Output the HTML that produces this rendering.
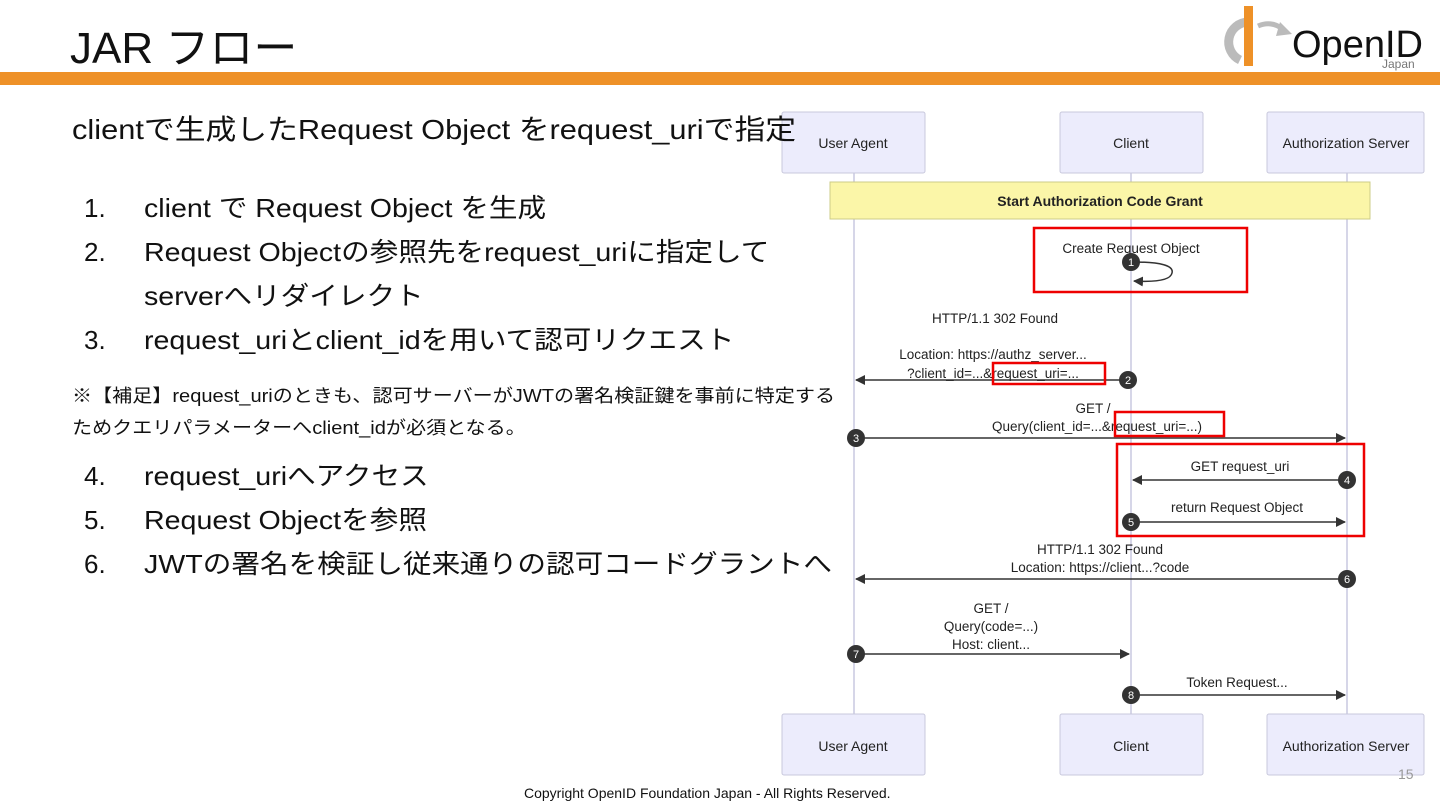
<!DOCTYPE html>
<html><head><meta charset="utf-8"><style>
body{margin:0;width:1440px;height:810px;background:#fff;position:relative;overflow:hidden;font-family:"Liberation Sans","Noto Sans CJK JP",sans-serif;color:#111}
.t{position:absolute;white-space:nowrap}
.s{transform:scaleX(1.1);transform-origin:0 0}
.n{position:absolute;white-space:nowrap;font-size:26px;line-height:36px;left:84px}
.l{position:absolute;white-space:nowrap;font-size:26px;line-height:36px;left:144px;transform:scaleX(1.1);transform-origin:0 0}
.n span,.l span{vertical-align:baseline}
</style></head><body>
<div class="t" style="left:70px;top:12px;font-size:44px;transform:scaleX(1.0);transform-origin:0 0">JAR フロー</div>
<div style="position:absolute;left:0;top:72px;width:1440px;height:13px;background:#ee9128"></div>
<svg style="position:absolute;left:1210px;top:0" width="230" height="72">
<path d="M38 22 A20 20 0 0 0 30 60" stroke="#bbb" stroke-width="9" fill="none"/>
<rect x="34" y="6" width="9" height="60" fill="#ee9128"/>
<path d="M48 26 Q62 20 74 30" stroke="#bbb" stroke-width="5" fill="none"/>
<polygon points="70,22 82,34 66,36" fill="#bbb"/>
<text x="82" y="57" font-size="38" font-family="Liberation Sans" fill="#111">OpenID</text>
<text x="172" y="68" font-size="12" font-family="Liberation Sans" fill="#777">Japan</text>
</svg>
<svg style="position:absolute;left:0;top:0" width="1440" height="810" font-family="Liberation Sans" font-size="13.5">
<defs><marker id="a" markerWidth="10" markerHeight="10" refX="9" refY="5" orient="auto" markerUnits="userSpaceOnUse"><path d="M0,0 L10,5 L0,10z" fill="#333"/></marker></defs>
<g stroke="#c8c8e0" stroke-width="1.5"><line x1="854" y1="172" x2="854" y2="714"/><line x1="1131" y1="172" x2="1131" y2="714"/><line x1="1347" y1="172" x2="1347" y2="714"/></g>
<g fill="#ececfc" stroke="#c8c8dc"><rect x="782" y="112" width="143" height="61" rx="2"/><rect x="1060" y="112" width="143" height="61" rx="2"/><rect x="1267" y="112" width="157" height="61" rx="2"/>
<rect x="782" y="714" width="143" height="61" rx="2"/><rect x="1060" y="714" width="143" height="61" rx="2"/><rect x="1267" y="714" width="157" height="61" rx="2"/></g>
<g text-anchor="middle" font-size="14" fill="#222"><text x="853" y="148">User Agent</text><text x="1131" y="148">Client</text><text x="1346" y="148">Authorization Server</text>
<text x="853" y="751">User Agent</text><text x="1131" y="751">Client</text><text x="1346" y="751">Authorization Server</text></g>
<rect x="830" y="182" width="540" height="37" fill="#fbf6a8" stroke="#cccc88"/>
<text x="1100" y="206" text-anchor="middle" font-size="14" font-weight="bold" fill="#222">Start Authorization Code Grant</text>
<g fill="#222" text-anchor="middle">
<text x="1131" y="253">Create Request Object</text>
<text x="995" y="323">HTTP/1.1 302 Found</text>
<text x="993" y="359">Location: https://authz_server...</text>
<text x="993" y="378">?client_id=...&amp;request_uri=...</text>
<text x="1093" y="413">GET /</text>
<text x="1097" y="431">Query(client_id=...&amp;request_uri=...)</text>
<text x="1240" y="471">GET request_uri</text>
<text x="1237" y="512">return Request Object</text>
<text x="1100" y="554">HTTP/1.1 302 Found</text>
<text x="1100" y="572">Location: https://client...?code</text>
<text x="991" y="613">GET /</text>
<text x="991" y="631">Query(code=...)</text>
<text x="991" y="649">Host: client...</text>
<text x="1237" y="687">Token Request...</text>
</g>
<g stroke="#333" stroke-width="1.5" fill="none" marker-end="url(#a)">
<path d="M1133 262 Q1175 262 1172 273 Q1170 283 1134 281"/>
<line x1="1128" y1="380" x2="856" y2="380"/>
<line x1="856" y1="438" x2="1345" y2="438"/>
<line x1="1345" y1="480" x2="1133" y2="480"/>
<line x1="1133" y1="522" x2="1345" y2="522"/>
<line x1="1345" y1="579" x2="856" y2="579"/>
<line x1="856" y1="654" x2="1129" y2="654"/>
<line x1="1133" y1="695" x2="1345" y2="695"/>
</g>
<g fill="#333"><circle cx="1131" cy="262" r="9"/><circle cx="1128" cy="380" r="9"/><circle cx="856" cy="438" r="9"/><circle cx="1347" cy="480" r="9"/><circle cx="1131" cy="522" r="9"/><circle cx="1347" cy="579" r="9"/><circle cx="856" cy="654" r="9"/><circle cx="1131" cy="695" r="9"/></g>
<g fill="#fff" font-size="11" text-anchor="middle"><text x="1131" y="266">1</text><text x="1128" y="384">2</text><text x="856" y="442">3</text><text x="1347" y="484">4</text><text x="1131" y="526">5</text><text x="1347" y="583">6</text><text x="856" y="658">7</text><text x="1131" y="699">8</text></g>
<g fill="none" stroke="#e00" stroke-width="2.5"><rect x="1034" y="228" width="213" height="64"/><rect x="993" y="363" width="112" height="21"/><rect x="1115" y="412" width="109" height="24"/><rect x="1117" y="444" width="247" height="92"/></g>
</svg>
<div class="t s" style="left:72px;top:108px;font-size:28px">clientで生成したRequest Object をrequest_uriで指定</div>
<div class="n" style="top:190px">1.</div><div class="l" style="top:190px">client で Request Object を生成</div>
<div class="n" style="top:234px">2.</div><div class="l" style="top:234px">Request Objectの参照先をrequest_uriに指定して</div>
<div class="l" style="top:278px">serverへリダイレクト</div>
<div class="n" style="top:322px">3.</div><div class="l" style="top:322px">request_uriとclient_idを用いて認可リクエスト</div>
<div class="t" style="left:72px;top:380px;font-size:18px;line-height:32px;transform:scaleX(1.115);transform-origin:0 0">※【補足】request_uriのときも、認可サーバーがJWTの署名検証鍵を事前に特定する<br>ためクエリパラメーターへclient_idが必須となる。</div>
<div class="n" style="top:458px">4.</div><div class="l" style="top:458px">request_uriへアクセス</div>
<div class="n" style="top:502px">5.</div><div class="l" style="top:502px">Request Objectを参照</div>
<div class="n" style="top:546px">6.</div><div class="l" style="top:546px">JWTの署名を検証し従来通りの認可コードグラントへ</div>
<div class="t" style="left:1398px;top:766px;font-size:14px;color:#999">15</div>
<div class="t" style="left:524px;top:785px;font-size:14px">Copyright OpenID Foundation Japan - All Rights Reserved.</div>
</body></html>
